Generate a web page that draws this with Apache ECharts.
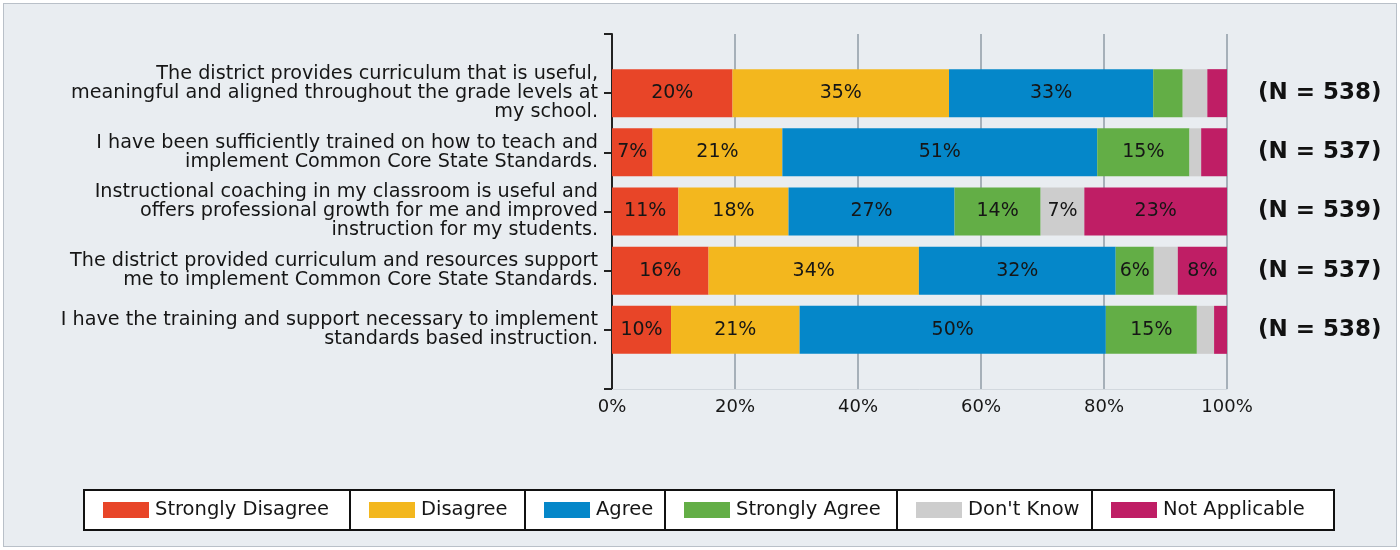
<!DOCTYPE html>
<html>
<head>
<meta charset="utf-8">
<script src="https://cdn.jsdelivr.net/npm/echarts@6/dist/echarts.min.js"></script>
<style>
    html, body {
        margin: 0;
        padding: 0;
        background: #ffffff;
    }
    #frame {
        position: absolute;
        left: 3px;
        top: 3px;
        width: 1392px;
        height: 542px;
        border: 1px solid #b9c0c8;
        background: #e9edf1;
    }
    #main {
        position: absolute;
        left: 0;
        top: 0;
        width: 1400px;
        height: 550px;
    }
</style>
</head>
<body>
<div id="frame"></div>
<div id="main"></div>
<script type="text/javascript">
    var categories = [
        'The district provides curriculum that is useful,\nmeaningful and aligned throughout the grade levels at\nmy school.',
        'I have been sufficiently trained on how to teach and\nimplement Common Core State Standards.',
        'Instructional coaching in my classroom is useful and\noffers professional growth for me and improved\ninstruction for my students.',
        'The district provided curriculum and resources support\nme to implement Common Core State Standards.',
        'I have the training and support necessary to implement\nstandards based instruction.'
    ];
    var nLabels = ['(N = 538)', '(N = 537)', '(N = 539)', '(N = 537)', '(N = 538)'];

    var stronglyDisagree = [19.6, 6.6, 10.8, 15.7, 9.6];
    var disagree = [35.2, 21.1, 17.9, 34.2, 20.9];
    var agree = [33.2, 51.2, 27.0, 32.0, 49.8];
    var stronglyAgree = [4.8, 15.0, 14.0, 6.2, 14.8];
    var dontKnow = [4.0, 1.9, 7.1, 3.9, 2.8];
    var notApplicable = [3.2, 4.2, 23.2, 8.0, 2.1];

    var xTicks = [0, 20, 40, 60, 80, 100];

    var seriesNames = ['Strongly Disagree', 'Disagree', 'Agree', 'Strongly Agree', "Don't Know", 'Not Applicable'];
    var seriesData = [stronglyDisagree, disagree, agree, stronglyAgree, dontKnow, notApplicable];
    var colors = ['#e84528', '#f3b71e', '#0587c9', '#63ae46', '#cdcdcd', '#bf1e65'];

    var FONT = 'DejaVu Sans';

    // empty slot above and below so the bars sit on the ticks
    function pad(arr) {
        return [''].concat(arr).concat(['']);
    }
    function padData(arr) {
        return [null].concat(arr).concat([null]);
    }

    var series = seriesNames.map(function (name, i) {
        return {
            name: name,
            type: 'bar',
            stack: 'total',
            barWidth: 48,
            itemStyle: { color: colors[i] },
            label: {
                show: true,
                position: 'inside',
                color: '#161616',
                fontFamily: FONT,
                fontSize: 19,
                formatter: function (p) {
                    return p.value >= 5.5 ? Math.round(p.value) + '%' : '';
                }
            },
            data: padData(seriesData[i])
        };
    });

    // legend cells (table look)
    var cellX = [84, 350, 525, 665, 897, 1092, 1334];
    var graphics = [];
    var legends = [];
    for (var i = 0; i < seriesNames.length; i++) {
        graphics.push({
            type: 'rect',
            shape: { x: cellX[i], y: 490, width: cellX[i + 1] - cellX[i], height: 40 },
            style: { fill: '#ffffff', stroke: '#111111', lineWidth: 2 },
            z: -1
        });
        legends.push({
            left: cellX[i] + 19,
            top: 500,
            padding: 0,
            itemWidth: 46,
            itemHeight: 16,
            icon: 'rect',
            selectedMode: false,
            textStyle: { fontFamily: FONT, fontSize: 19.5, color: '#161616', padding: [0, 0, 0, 1] },
            data: [seriesNames[i]]
        });
    }

    var chart = echarts.init(document.getElementById('main'));
    var option = {
        backgroundColor: 'transparent',
        animation: false,
        legend: legends,
        graphic: graphics,
        grid: {
            left: 612,
            right: 173,
            top: 34,
            bottom: 161
        },
        xAxis: {
            type: 'value',
            min: xTicks[0],
            max: xTicks[xTicks.length - 1],
            interval: 20,
            axisLine: { show: true, lineStyle: { color: '#d2d8de', width: 1 } },
            axisTick: { show: false },
            axisLabel: {
                formatter: '{value}%',
                fontFamily: FONT,
                fontSize: 18,
                color: '#161616',
                margin: 9
            },
            splitLine: { show: true, lineStyle: { color: '#8f9ba6', width: 1.5 } }
        },
        yAxis: [{
            type: 'category',
            inverse: true,
            boundaryGap: false,
            data: pad(categories),
            axisLine: { show: true, lineStyle: { color: '#222222', width: 2 } },
            axisTick: { show: true, length: 8, interval: 0, lineStyle: { color: '#222222', width: 2 } },
            axisLabel: {
                interval: 0,
                margin: 14,
                fontFamily: FONT,
                fontSize: 19.2,
                lineHeight: 19,
                color: '#161616',
                align: 'right'
            },
            splitLine: { show: false }
        }, {
            type: 'category',
            inverse: true,
            boundaryGap: false,
            position: 'right',
            data: pad(nLabels),
            axisLine: { show: false },
            axisTick: { show: false },
            axisLabel: {
                interval: 0,
                margin: 31,
                fontFamily: FONT,
                fontSize: 23,
                fontWeight: 'bold',
                color: '#111111'
            },
            splitLine: { show: false }
        }],
        series: series
    };
    chart.setOption(option);
</script>
</body>
</html>
